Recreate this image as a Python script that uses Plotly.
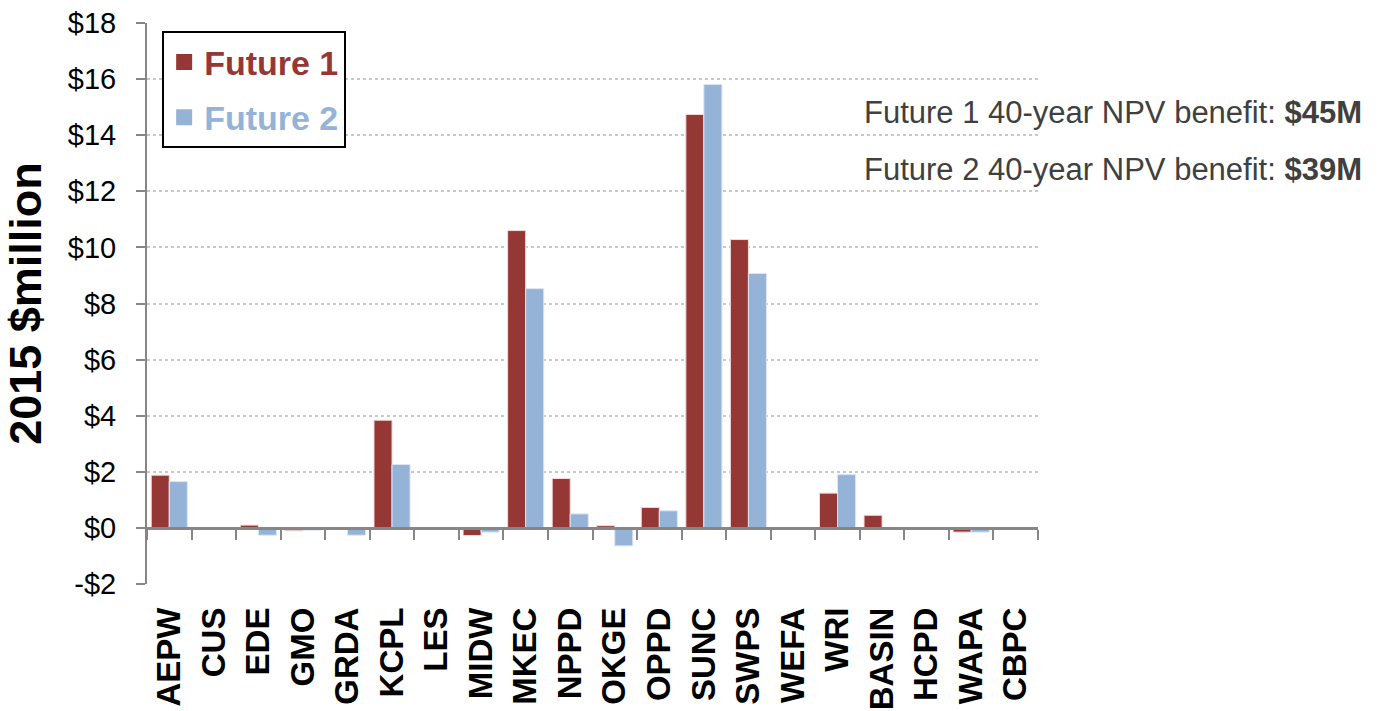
import plotly.graph_objects as go

categories = ["AEPW", "CUS", "EDE", "GMO", "GRDA", "KCPL", "LES", "MIDW", "MKEC", "NPPD",
              "OKGE", "OPPD", "SUNC", "SWPS", "WEFA", "WRI", "BASIN", "HCPD", "WAPA", "CBPC"]
future1 = [1.88, 0, 0.10, -0.10, 0, 3.84, 0, -0.27, 10.60, 1.76,
           0.08, 0.73, 14.74, 10.28, 0, 1.24, 0.45, 0, -0.15, 0]
future2 = [1.65, 0, -0.26, -0.08, -0.26, 2.26, 0, -0.15, 8.53, 0.50,
           -0.64, 0.61, 15.81, 9.07, 0, 1.90, 0, 0, -0.15, 0]
series_names = ["Future 1", "Future 2"]
ytick_vals = [-2, 0, 2, 4, 6, 8, 10, 12, 14, 16, 18]
ytick_text = ["-$2", "$0", "$2", "$4", "$6", "$8", "$10", "$12", "$14", "$16", "$18"]
notes = ["Future 1 40-year NPV benefit: <b>$45M</b>",
         "Future 2 40-year NPV benefit: <b>$39M</b>"]

C1 = "#953735"
C2 = "#95B3D7"
FONT = "Arial, Liberation Sans, sans-serif"

fig = go.Figure()
for vals, nm, col, edge in [(future1, series_names[0], C1, "#F2DCDB"),
                            (future2, series_names[1], C2, "#DCE6F2")]:
    fig.add_trace(go.Bar(x=categories, y=vals, name=nm, showlegend=False,
                         marker=dict(color=col, line=dict(color=edge, width=1))))
    # legend entry with a larger square swatch
    fig.add_trace(go.Scatter(x=[None], y=[None], mode="markers", legendgroup=nm,
                             name=f"<b><span style='color:{col}'>{nm}</span></b>",
                             marker=dict(symbol="square", size=16, color=col)))
# invisible helper trace for the bottom label axis
fig.add_trace(go.Scatter(x=categories, y=future1, xaxis="x2", mode="markers",
                         marker=dict(opacity=0), hoverinfo="skip", showlegend=False))

fig.update_layout(
    width=1378, height=711,
    margin=dict(l=147, r=340, t=23, b=127, autoexpand=False),
    paper_bgcolor="white", plot_bgcolor="white",
    font=dict(family=FONT, color="black"),
    barmode="group", bargap=0.19, bargroupgap=0,
    showlegend=True,
    legend=dict(x=0.017, y=0.985, xanchor="left", yanchor="top",
                bordercolor="black", borderwidth=2, bgcolor="white",
                font=dict(size=34, family=FONT), tracegroupgap=8, itemwidth=30),
    xaxis=dict(type="category", categoryorder="array", categoryarray=categories,
               range=[-0.5, len(categories) - 0.5], automargin=False,
               anchor="free", position=0.1, showline=True, linecolor="#868686", linewidth=3,
               ticks="outside", ticklen=10, tickwidth=2, tickcolor="#868686",
               tickson="boundaries", showticklabels=False, showgrid=False, zeroline=False),
    xaxis2=dict(type="category", categoryorder="array", categoryarray=categories,
                range=[-0.5, len(categories) - 0.5], overlaying="x", anchor="y", side="bottom",
                showline=False, ticks="", showgrid=False, zeroline=False, automargin=False,
                ticklabelstandoff=16,
                tickangle=-90, tickfont=dict(size=33, family=FONT, color="black"),
                tickprefix="<b>", ticksuffix="</b>"),
    yaxis=dict(range=[-2, 18], tickvals=ytick_vals, ticktext=ytick_text, automargin=False,
               tickfont=dict(size=29, family=FONT, color="black"),
               showline=True, linecolor="#868686", linewidth=2,
               ticks="outside", ticklen=9, tickwidth=2, tickcolor="#868686",
               ticklabelstandoff=14,
               showgrid=True, gridcolor="#C8C8C8", griddash="dot", gridwidth=1.5,
               zeroline=False,
               title=dict(text="<b>2015 $million</b>", font=dict(size=45, family=FONT, color="black"),
                          standoff=12)),
)

for i, t in enumerate(notes):
    fig.add_annotation(xref="paper", yref="paper", x=0.8025, y=0.8396 - i * 0.1016,
                       xanchor="left", yanchor="middle", text=t, showarrow=False,
                       font=dict(size=31, family=FONT, color="#404040"))

fig.write_html("out.html")
